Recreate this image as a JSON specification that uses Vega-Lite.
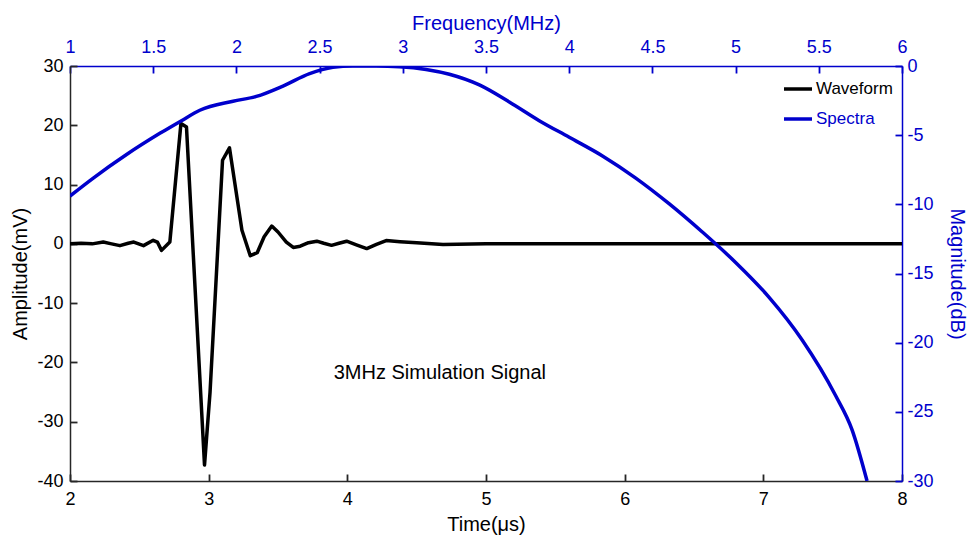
{
  "$schema": "https://vega.github.io/schema/vega-lite/v6.json",
  "width": 832,
  "height": 415,
  "autosize": {"type": "none"},
  "padding": {"left": 70, "top": 66, "right": 70, "bottom": 59},
  "background": "white",
  "config": {
    "view": {"stroke": null},
    "font": "Liberation Sans",
    "axis": {
      "grid": false,
      "ticks": true,
      "labelFont": "Liberation Sans",
      "titleFont": "Liberation Sans",
      "labelFontSize": 18,
      "titleFontSize": 20,
      "titleFontWeight": "normal",
      "tickSize": -7,
      "domainWidth": 1.5,
      "tickWidth": 1.8,
      "labelFlush": false,
      "labelOverlap": false,
      "labelExpr": "'' + datum.value"
    }
  },
  "datasets": {
    "wave": [
      {"t": 2.00, "a": 0, "series": "Waveform"},
      {"t": 2.08, "a": 0.1, "series": "Waveform"},
      {"t": 2.16, "a": 0, "series": "Waveform"},
      {"t": 2.24, "a": 0.3, "series": "Waveform"},
      {"t": 2.30, "a": 0, "series": "Waveform"},
      {"t": 2.36, "a": -0.3, "series": "Waveform"},
      {"t": 2.42, "a": 0.1, "series": "Waveform"},
      {"t": 2.46, "a": 0.3, "series": "Waveform"},
      {"t": 2.53, "a": -0.3, "series": "Waveform"},
      {"t": 2.60, "a": 0.6, "series": "Waveform"},
      {"t": 2.63, "a": 0.3, "series": "Waveform"},
      {"t": 2.66, "a": -1.1, "series": "Waveform"},
      {"t": 2.72, "a": 0.3, "series": "Waveform"},
      {"t": 2.80, "a": 20.3, "series": "Waveform"},
      {"t": 2.84, "a": 19.7, "series": "Waveform"},
      {"t": 2.97, "a": -37.3, "series": "Waveform"},
      {"t": 3.01, "a": -25, "series": "Waveform"},
      {"t": 3.10, "a": 14.1, "series": "Waveform"},
      {"t": 3.15, "a": 16.2, "series": "Waveform"},
      {"t": 3.24, "a": 2.3, "series": "Waveform"},
      {"t": 3.30, "a": -2.0, "series": "Waveform"},
      {"t": 3.35, "a": -1.5, "series": "Waveform"},
      {"t": 3.40, "a": 1.2, "series": "Waveform"},
      {"t": 3.455, "a": 3.0, "series": "Waveform"},
      {"t": 3.50, "a": 2.0, "series": "Waveform"},
      {"t": 3.56, "a": 0.3, "series": "Waveform"},
      {"t": 3.61, "a": -0.6, "series": "Waveform"},
      {"t": 3.66, "a": -0.4, "series": "Waveform"},
      {"t": 3.72, "a": 0.2, "series": "Waveform"},
      {"t": 3.78, "a": 0.45, "series": "Waveform"},
      {"t": 3.83, "a": 0.1, "series": "Waveform"},
      {"t": 3.886, "a": -0.25, "series": "Waveform"},
      {"t": 3.94, "a": 0.1, "series": "Waveform"},
      {"t": 3.995, "a": 0.45, "series": "Waveform"},
      {"t": 4.07, "a": -0.2, "series": "Waveform"},
      {"t": 4.14, "a": -0.8, "series": "Waveform"},
      {"t": 4.21, "a": -0.1, "series": "Waveform"},
      {"t": 4.28, "a": 0.55, "series": "Waveform"},
      {"t": 4.38, "a": 0.35, "series": "Waveform"},
      {"t": 4.5, "a": 0.17, "series": "Waveform"},
      {"t": 4.69, "a": -0.1, "series": "Waveform"},
      {"t": 5.0, "a": 0, "series": "Waveform"},
      {"t": 8.0, "a": 0, "series": "Waveform"}
    ],
    "note": [
      {"t": 4.667, "a": -21.8, "label": "3MHz Simulation Signal"}
    ],
    "spec": [
      {"f": 1.00, "db": -9.4, "series": "Spectra"},
      {"f": 1.14, "db": -8.1, "series": "Spectra"},
      {"f": 1.34, "db": -6.4, "series": "Spectra"},
      {"f": 1.54, "db": -4.87, "series": "Spectra"},
      {"f": 1.67, "db": -3.95, "series": "Spectra"},
      {"f": 1.78, "db": -3.2, "series": "Spectra"},
      {"f": 1.98, "db": -2.55, "series": "Spectra"},
      {"f": 2.12, "db": -2.2, "series": "Spectra"},
      {"f": 2.28, "db": -1.45, "series": "Spectra"},
      {"f": 2.44, "db": -0.55, "series": "Spectra"},
      {"f": 2.58, "db": -0.1, "series": "Spectra"},
      {"f": 2.70, "db": 0, "series": "Spectra"},
      {"f": 2.84, "db": 0, "series": "Spectra"},
      {"f": 2.98, "db": -0.05, "series": "Spectra"},
      {"f": 3.14, "db": -0.25, "series": "Spectra"},
      {"f": 3.28, "db": -0.6, "series": "Spectra"},
      {"f": 3.46, "db": -1.37, "series": "Spectra"},
      {"f": 3.64, "db": -2.6, "series": "Spectra"},
      {"f": 3.82, "db": -3.95, "series": "Spectra"},
      {"f": 4.0, "db": -5.15, "series": "Spectra"},
      {"f": 4.2, "db": -6.5, "series": "Spectra"},
      {"f": 4.4, "db": -8.1, "series": "Spectra"},
      {"f": 4.6, "db": -9.95, "series": "Spectra"},
      {"f": 4.8, "db": -12.0, "series": "Spectra"},
      {"f": 5.0, "db": -14.2, "series": "Spectra"},
      {"f": 5.2, "db": -16.7, "series": "Spectra"},
      {"f": 5.4, "db": -19.8, "series": "Spectra"},
      {"f": 5.6, "db": -23.8, "series": "Spectra"},
      {"f": 5.7, "db": -26.3, "series": "Spectra"},
      {"f": 5.79, "db": -30, "series": "Spectra"}
    ]
  },
  "layer": [
    {
      "encoding": {
        "x": {
          "field": "t",
          "type": "quantitative",
          "scale": {"domain": [2, 8], "nice": false, "zero": false},
          "axis": {
            "orient": "bottom",
            "values": [2, 3, 4, 5, 6, 7, 8],
            "title": "Time(μs)",
            "ticks": true,
            "tickSize": -7,
            "labelColor": "#000000",
            "titleColor": "#000000",
            "domainColor": "#262626",
            "tickColor": "#262626",
            "labelPadding": 16,
            "titlePadding": 6
          }
        },
        "y": {
          "field": "a",
          "type": "quantitative",
          "scale": {"domain": [-40, 30], "nice": false, "zero": false},
          "axis": {
            "orient": "left",
            "values": [-40, -30, -20, -10, 0, 10, 20, 30],
            "title": "Amplitude(mV)",
            "ticks": true,
            "tickSize": -7,
            "labelColor": "#000000",
            "titleColor": "#000000",
            "domainColor": "#262626",
            "tickColor": "#262626",
            "labelPadding": 14,
            "titlePadding": 6
          }
        }
      },
      "layer": [
        {
          "data": {"name": "wave"},
          "mark": {"type": "line", "strokeWidth": 3.5, "strokeJoin": "round", "clip": true},
          "encoding": {
            "color": {
              "field": "series",
              "type": "nominal",
              "scale": {"domain": ["Waveform", "Spectra"], "range": ["#000000", "#0000cc"]},
              "legend": {
                "title": null,
                "orient": "none",
                "legendX": 712,
                "legendY": 7,
                "padding": 0,
                "symbolType": "stroke",
                "symbolSize": 784,
                "symbolStrokeWidth": 3.5,
                "labelFont": "Liberation Sans",
                "labelFontSize": 17,
                "labelOffset": 2,
                "rowPadding": 6,
                "labelColor": {"expr": "datum.value === 'Spectra' ? '#0000cc' : '#000000'"}
              }
            }
          }
        },
        {
          "data": {"name": "note"},
          "mark": {"type": "text", "font": "Liberation Sans", "fontSize": 20, "color": "#000000", "align": "center", "baseline": "middle"},
          "encoding": {"text": {"field": "label"}}
        }
      ]
    },
    {
      "data": {"name": "spec"},
      "mark": {"type": "line", "strokeWidth": 3.5, "interpolate": "monotone", "clip": true},
      "encoding": {
        "x": {
          "field": "f",
          "type": "quantitative",
          "scale": {"domain": [1, 6], "nice": false, "zero": false},
          "axis": {
            "orient": "top",
            "values": [1, 1.5, 2, 2.5, 3, 3.5, 4, 4.5, 5, 5.5, 6],
            "title": "Frequency(MHz)",
            "ticks": true,
            "tickSize": -7,
            "labelColor": "#0000cc",
            "titleColor": "#0000cc",
            "domainColor": "#0000cc",
            "tickColor": "#0000cc",
            "labelPadding": 17,
            "titlePadding": 5
          }
        },
        "y": {
          "field": "db",
          "type": "quantitative",
          "scale": {"domain": [-30, 0], "nice": false, "zero": false},
          "axis": {
            "orient": "right",
            "values": [-30, -25, -20, -15, -10, -5, 0],
            "title": "Magnitude(dB)",
            "titleAngle": 90,
            "ticks": true,
            "tickSize": -7,
            "labelColor": "#0000cc",
            "titleColor": "#0000cc",
            "domainColor": "#0000cc",
            "tickColor": "#0000cc",
            "labelPadding": 12,
            "titlePadding": 13
          }
        },
        "color": {
          "field": "series",
          "type": "nominal",
          "scale": {"domain": ["Waveform", "Spectra"], "range": ["#000000", "#0000cc"]},
          "legend": {
            "title": null,
            "orient": "none",
            "legendX": 712,
            "legendY": 7,
            "padding": 0,
            "symbolType": "stroke",
            "symbolSize": 784,
            "symbolStrokeWidth": 3.5,
            "labelFont": "Liberation Sans",
            "labelFontSize": 17,
            "labelOffset": 2,
            "rowPadding": 6,
            "labelColor": {"expr": "datum.value === 'Spectra' ? '#0000cc' : '#000000'"}
          }
        }
      }
    }
  ],
  "resolve": {"scale": {"x": "independent", "y": "independent"}}
}
